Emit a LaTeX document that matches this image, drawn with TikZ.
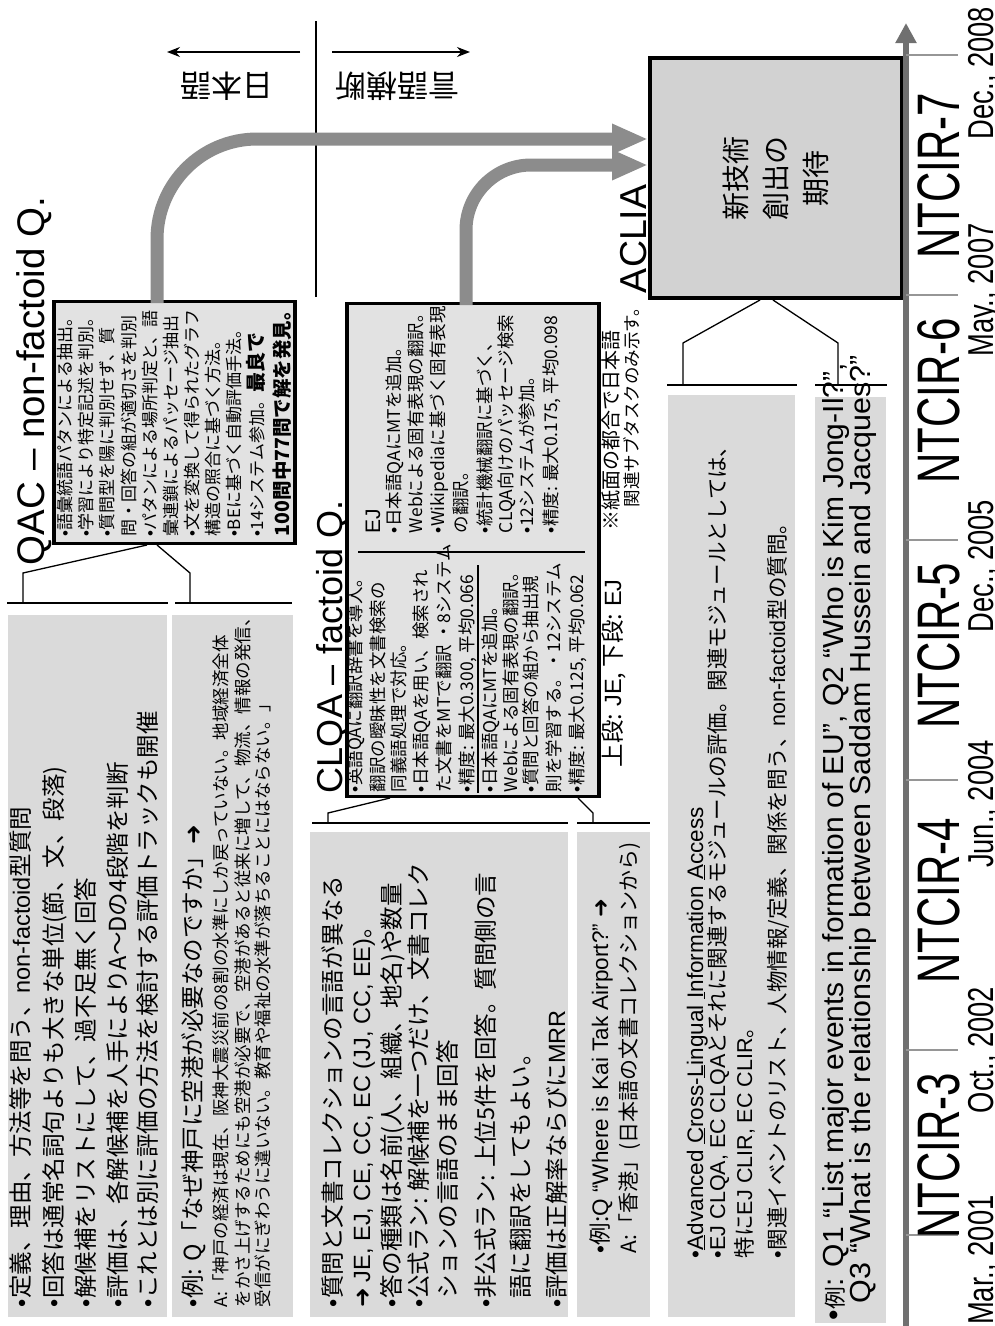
\documentclass[tikz,border=0pt]{standalone}
\usepackage{fontspec}
\usepackage{graphicx}
\setmainfont{Noto Sans CJK JP}
\newfontfamily\lat{Liberation Sans}
\newfontfamily\djv{DejaVu Sans}
\usetikzlibrary{arrows.meta}
\newcommand\FS[1]{\fontsize{#1}{#1}\selectfont}
\newcommand\bu{{\lat •}}
\newcommand\LS[1]{{\lat #1}}
\newcommand\rar{{\djv ➜}}
\definecolor{boxgray}{RGB}{218,218,218}
\definecolor{qacfill}{RGB}{226,226,226}
\definecolor{acliafill}{RGB}{210,210,210}
\definecolor{arrowgray}{RGB}{140,140,140}
\definecolor{axisgray}{RGB}{112,112,112}
\definecolor{tickgray}{RGB}{150,150,150}
\begin{document}
\begin{tikzpicture}[x=1pt,y=1pt,
  t/.style={anchor=base west, inner sep=0pt, outer sep=0pt},
  gbox/.style={fill=boxgray, draw=none, inner sep=0pt, anchor=north west},
  fl/.style={draw=black, line width=1.3pt},
  bbox/.style={draw=black, line width=3.5pt, inner sep=0pt, anchor=north west},
  garrow/.style={draw=arrowgray, line width=13pt, -{Triangle[length=36pt,width=28pt]}},
  tickline/.style={draw=tickgray, line width=1.3pt},
  ntc/.style={anchor=base, inner sep=0pt, font=\lat\FS{60}},
  dat/.style={anchor=base, inner sep=0pt, font=\lat\FS{36}},
]
\useasboundingbox (0,0) rectangle (995,-1326);
\fill[white] (0,0) rectangle (995,-1326);
\begin{scope}[shift={(0,-1326)}, rotate=90, transform shape]

% ---------- gray description boxes ----------
\node[gbox, minimum width=702pt, minimum height=159pt] (boxA) at (9,-8) {};
\node[gbox, minimum width=702pt, minimum height=121pt] (boxB) at (9,-172) {};
\node[gbox, minimum width=485pt, minimum height=258pt] (boxC) at (9,-310) {};
\node[gbox, minimum width=485pt, minimum height=73pt] (boxD) at (9,-577) {};
\node[gbox, minimum width=922pt, minimum height=127pt] (boxE) at (9,-668) {};
\node[gbox, minimum width=926pt, minimum height=71pt] (boxF) at (3,-815) {};

% ---------- framed boxes ----------
\node[bbox, fill=qacfill, minimum width=242pt, minimum height=241pt] (qac) at (781,-52) {};
\node[bbox, fill=qacfill, minimum width=493pt, minimum height=252pt] (clqa) at (528,-345) {};
\node[bbox, line width=4pt, fill=acliafill, minimum width=240pt, minimum height=252pt] (aclia) at (1026,-648) {};
\node[font=\fontsize{28}{40}\selectfont, align=center, inner sep=0pt] (acliatxt) at (aclia.center) {新技術\\創出の\\期待};

% inner separators of CLQA box
\draw[line width=1.3pt] (774,-358) -- (774,-585);
\draw[line width=1.3pt] (533,-478) -- (761,-478);

% ---------- funnels ----------
\draw[fl] (781,-147) -- (753,-23) -- (723,-23);
\draw[fl] (781,-157) -- (753,-190) -- (723,-190);
\draw[fl] (723,-7) -- (723,-168);
\draw[fl] (723,-175) -- (723,-292);

\draw[fl] (528,-390) -- (513,-328) -- (503,-328);
\draw[fl] (528,-578) -- (513,-593) -- (503,-593);
\draw[fl] (503,-312) -- (503,-568);
\draw[fl] (503,-577) -- (503,-650);

\draw[fl] (1026,-760) -- (983,-683) -- (941,-683);
\draw[fl] (1026,-773) -- (983,-838) -- (941,-838);
\draw[fl] (941,-667) -- (941,-797);
\draw[fl] (941,-815) -- (941,-887);

% ---------- language separator and arrows ----------
\draw[line width=1.3pt] (1029,-316) -- (1305,-316);
\coordinate (jpA) at (1274,-300);
\coordinate (jpB) at (1274,-167);
\coordinate (clA) at (1274,-332);
\coordinate (clB) at (1274,-470);
\draw[line width=1.5pt, -{Stealth[length=13pt,width=10pt]}] (jpA) -- (jpB);
\draw[line width=1.5pt, -{Stealth[length=13pt,width=10pt]}] (clA) -- (clB);
\node[rotate=90, font=\FS{31}, inner sep=0pt] (jp) at (1240,-227) {日本語};
\node[rotate=90, font=\FS{31}, inner sep=0pt] (cl) at (1240,-397) {言語横断};

% ---------- thick gray arrows ----------
\coordinate (g1s) at (1023,-157);
\coordinate (g1e) at (1187,-648);
\coordinate (g2s) at (1021,-466);
\coordinate (g2e) at (1161,-648);
\draw[garrow, rounded corners=100pt] (g1s) -| (g1e);
\draw[garrow, rounded corners=65pt] (g2s) -| (g2e);

% ---------- titles ----------
\node[t, anchor=base east, font=\lat\FS{38.5}] (qact) at (1129,-45) {QAC – non-factoid Q.};
\node[t, font=\lat\FS{36}] (clqat) at (533,-342) {CLQA – factoid Q.};
\node[t, font=\lat\FS{37.5}] (acliat) at (1033,-646) {ACLIA};

% ---------- box A ----------
\begin{scope}[every node/.style={t, font=\FS{23.5}}]
\node (a1) at (19,-30) {\bu{}定義、理由、方法等を問う、\LS{non-factoid}型質問};
\node (a2) at (19,-62) {\bu{}回答は通常名詞句よりも大きな単位(節、文、段落)};
\node (a3) at (19,-94) {\bu{}解候補をリストにして、過不足無く回答};
\node (a4) at (19,-126) {\bu{}評価は、各解候補を人手によりA～Dの4段階を判断};
\node (a5) at (19,-156) {\bu{}これとは別に評価の方法を検討する評価トラックも開催};
% box B
\node (b1) at (19,-201) {\bu{}例: Q「なぜ神戸に空港が必要なのですか」\rar{}};
% box C
\node (c1) at (19,-341) {\bu{}質問と文書コレクションの言語が異なる};
\node (c2) at (19,-370) {\rar{} \LS{JE, EJ, CE, CC, EC (JJ, CC, EE)}。};
\node (c3) at (19,-400) {\bu{}答の種類は名前(人、組織、地名)や数量};
\node (c4) at (19,-427) {\bu{}公式ラン: 解候補を一つだけ、文書コレク};
\node (c5) at (19,-456) {\phantom{\bu}ションの言語のまま回答};
\node (c6) at (19,-494) {\bu{}非公式ラン: 上位5件を回答。質問側の言};
\node (c7) at (19,-529) {\phantom{\bu}語に翻訳をしてもよい。};
\node (c8) at (19,-565) {\bu{}評価は正解率ならびに\LS{MRR}};
\end{scope}
\begin{scope}[every node/.style={t, font=\FS{17.5}}]
\node (b2) at (19,-227) {A:「神戸の経済は現在、阪神大震災前の8割の水準にしか戻っていない。地域経済全体};
\node (b3) at (19,-249) {をかさ上げするためにも空港が必要で、空港があると従来に増して、物流、情報の発信、};
\node (b4) at (19,-269) {受信がにぎわうに違いない。教育や福祉の水準が落ちることにはならない。」};
\end{scope}

% ---------- box D ----------
\node[t, font=\FS{22.5}] (d1) at (73,-608) {\bu{}例:\LS{Q “Where is Kai Tak Airport?”} \rar{}};
\node[t, font=\FS{21}] (d2) at (73,-636) {A:「香港」(日本語の文書コレクションから)};

% ---------- box E ----------
\node[t, font=\lat\FS{22.5}] (e1) at (68,-703) {•\underline{A}dvanced \underline{C}ross-\underline{L}ingual \underline{I}nformation \underline{A}ccess};
\begin{scope}[every node/.style={t, font=\FS{21.5}}]
\node (e2) at (68,-725) {\bu{}\LS{EJ CLQA, EC CLQA}とそれに関連するモジュールの評価。関連モジュールとしては、};
\node (e3) at (68,-752) {特に\LS{EJ CLIR, EC CLIR}。};
\node (e4) at (68,-785) {\bu{}関連イベントのリスト、人物情報/定義、関係を問う、\LS{non-factoid}型の質問。};
\end{scope}

% ---------- box F ----------
\node[t, font=\lat\FS{29}] (f1) at (6,-843) {\scalebox{1.035}[1]{•{\rmfamily\FS{22}例}: Q1 “List major events in formation of EU”, Q2 “Who is Kim Jong-Il?”,}};
\node[t, font=\lat\FS{29}] (f2) at (23,-870) {\scalebox{1.05}[1]{Q3 “What is the relationship between Saddam Hussein and Jacques?”}};

% ---------- QAC box text ----------
\begin{scope}[every node/.style={t, font=\FS{17}}]
\node (q1) at (790,-71) {\bu{}語彙統語パタンによる抽出。};
\node (q2) at (790,-92) {\bu{}学習により特定記述を判別。};
\node (q3) at (790,-113) {\bu{}質問型を陽に判別せず、質};
\node (q4) at (790,-135) {問・回答の組が適切さを判別};
\node (q5) at (790,-156) {\bu{}パタンによる場所判定と、語};
\node (q6) at (790,-177) {彙連鎖によるパッセージ抽出};
\node (q7) at (790,-198) {\bu{}文を変換して得られたグラフ};
\node (q8) at (790,-219) {構造の照合に基づく方法。};
\node (q9) at (790,-240) {\bu{}BEに基づく自動評価手法。};
\node (q10) at (790,-263) {\bu{}14システム参加。{\bfseries\FS{20}最良で}};
\node (q11) at (790,-289) {{\bfseries\FS{19.5}100問中77問で解を発見。}};
\end{scope}

% ---------- CLQA box text ----------
\begin{scope}[every node/.style={t, font=\FS{17.5}}]
\node (l1) at (534,-361) {\bu{}英語QAに翻訳辞書を導入。};
\node (l2) at (534,-384) {翻訳の曖昧性を文書検索の};
\node (l3) at (534,-405) {同義語処理で対応。};
\node (l4) at (534,-427) {\bu{}日本語QAを用い、検索され};
\node (l5) at (534,-450) {た文書をMTで翻訳 ・8システム};
\node (l6) at (534,-473) {\bu{}精度: 最大0.300, 平均0.066};
\node (l7) at (534,-496) {\bu{}日本語QAにMTを追加。};
\node (l8) at (534,-517) {Webによる固有表現の翻訳。};
\node (l9) at (534,-537) {\bu{}質問と回答の組から抽出規};
\node (l10) at (534,-560) {則を学習する。・12システム};
\node (l11) at (534,-583) {\bu{}精度: 最大0.125, 平均0.062};
\node (r1) at (793,-400) {\bu{}日本語QAにMTを追加。};
\node (r2) at (793,-422) {Webによる固有表現の翻訳。};
\node (r3) at (793,-444) {\bu{}Wikipediaに基づく固有表現};
\node (r4) at (793,-467) {の翻訳。};
\node (r5) at (793,-491) {\bu{}統計機械翻訳に基づく、};
\node (r6) at (793,-512) {CLQA向けのパッセージ検索};
\node (r7) at (793,-533) {\bu{}12システムが参加。};
\node (r8) at (793,-557) {\bu{}精度: 最大0.175, 平均0.098};
\end{scope}
\node[t, font=\lat\FS{21}] (r0) at (793,-380) {EJ};

% ---------- notes ----------
\node[t, font=\FS{23.5}] (jeej) at (559,-621) {上段: \LS{JE}, 下段: \LS{EJ}};
\node[t, font=\FS{20}] (note1) at (796,-618) {※紙面の都合で日本語};
\node[t, font=\FS{17.5}] (note2) at (819,-638) {関連サブタスクのみ示す。};

% ---------- timeline ----------
\coordinate (ax0) at (0,-906);
\coordinate (ax1) at (1303,-906);
\draw[draw=axisgray, line width=6pt, -{Triangle[length=20pt,width=20pt]}] (ax0) -- (ax1);
\foreach \u in {91,276,546,786,1031,1271} \draw[tickline] (\u,-906) -- (\u,-958);
\node[ntc] (n3) at (170,-959) {\scalebox{0.7}[1]{NTCIR-3}};
\node[ntc] (n4) at (425,-959) {\scalebox{0.7}[1]{NTCIR-4}};
\node[ntc] (n5) at (680,-959) {\scalebox{0.7}[1]{NTCIR-5}};
\node[ntc] (n6) at (925,-959) {\scalebox{0.7}[1]{NTCIR-6}};
\node[ntc] (n7) at (1150,-959) {\scalebox{0.7}[1]{NTCIR-7}};
\node[dat, anchor=base west] (d01) at (1,-993) {\scalebox{0.76}[1]{Mar., 2001}};
\node[dat] (d02) at (276,-993) {\scalebox{0.76}[1]{Oct., 2002}};
\node[dat] (d04) at (522,-993) {\scalebox{0.76}[1]{Jun., 2004}};
\node[dat] (d05) at (760,-993) {\scalebox{0.76}[1]{Dec., 2005}};
\node[dat] (d07) at (1036,-993) {\scalebox{0.76}[1]{May., 2007}};
\node[dat] (d08) at (1253,-993) {\scalebox{0.76}[1]{Dec., 2008}};
\end{scope}
\end{tikzpicture}
\end{document}
